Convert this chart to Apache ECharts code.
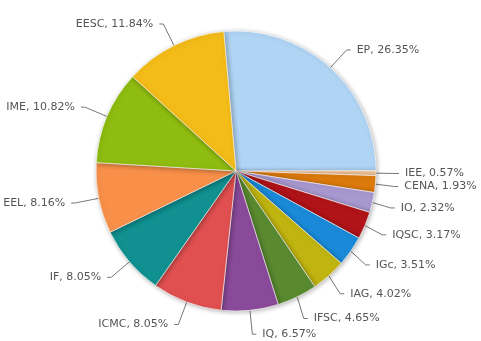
<!DOCTYPE html>
<html><head><meta charset="utf-8">
<script src="https://cdn.jsdelivr.net/npm/echarts@6/dist/echarts.min.js"></script>
<style>html,body{margin:0;padding:0;background:#fff}#c{width:481px;height:341px}</style>
</head><body><div id="c"></div>
<script>
var categories = ['EP','IEE','CENA','IO','IQSC','IGc','IAG','IFSC','IQ','ICMC','IF','EEL','IME','EESC'];
var values = [26.35,0.57,1.93,2.32,3.17,3.51,4.02,4.65,6.57,8.05,8.05,8.16,10.82,11.84];
var colors = ['#b0d4f4','#f6c79a','#dd7a0c','#a898d0','#b01418','#1a8ad8','#c0b410','#5a8a30','#8a4a9a','#e05050','#109090','#f8904a','#8ebc10','#f4bc18'];
var data = categories.map(function(c,i){return {name:c,value:values[i],itemStyle:{color:colors[i]}};});
var chart = echarts.init(document.getElementById('c'));
chart.setOption({
  animation:false,
  series:[{
    type:'pie',
    center:[236,171],
    radius:140,
    startAngle:95,
    clockwise:true,
    data:data,
    itemStyle:{borderColor:'rgba(255,255,255,0.6)',borderWidth:1,shadowBlur:5,shadowColor:'rgba(0,0,0,0.3)',shadowOffsetX:1,shadowOffsetY:1},
    label:{formatter:function(p){return p.name+', '+p.value.toFixed(2)+'%';},fontFamily:'DejaVu Sans',fontSize:11,color:'#555',padding:[0,1],overflow:'none'},
    labelLine:{length:24,length2:4,lineStyle:{color:'#777',width:1}}
  }]
});
</script></body></html>
